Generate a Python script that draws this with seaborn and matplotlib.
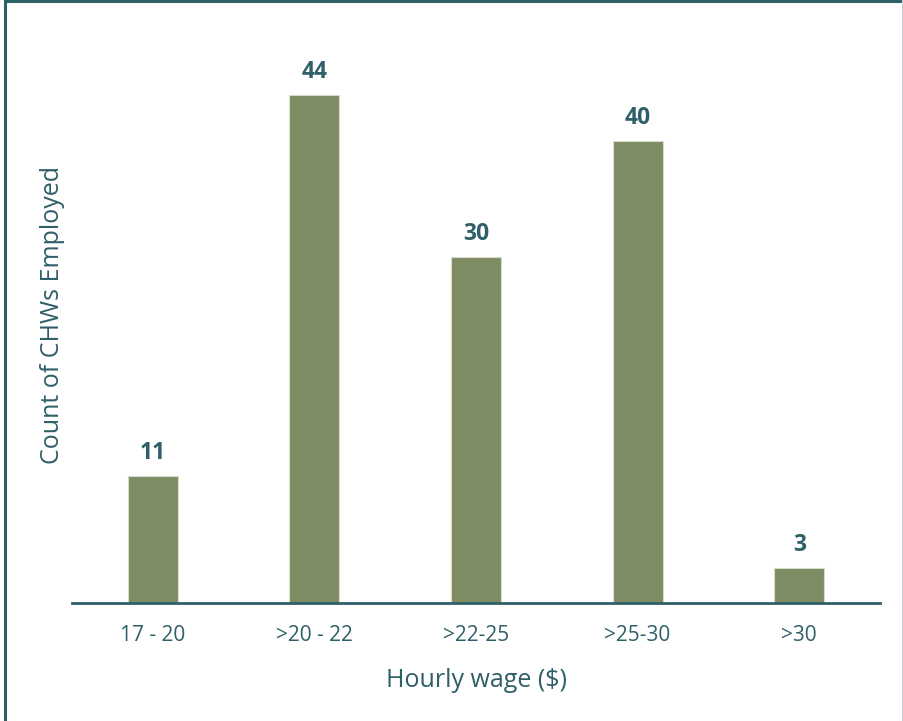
import matplotlib
matplotlib.use("Agg")
import matplotlib.pyplot as plt
from matplotlib.lines import Line2D
import seaborn as sns
import pandas as pd

categories = ["17 - 20", ">20 - 22", ">22-25", ">25-30", ">30"]
counts = [11, 44, 30, 40, 3]

sns.set_theme(style="white")
plt.rcParams["font.family"] = ["Open Sans", "DejaVu Sans"]

teal = "#2F5F68"
bar_color = "#7E8C64"

df = pd.DataFrame({"wage": categories, "count": counts})

fig = plt.figure(figsize=(9.04, 7.21), dpi=100)
ax = fig.add_axes([0.0796, 0.1637, 0.8939, 0.8002])

sns.barplot(data=df, x="wage", y="count", order=categories, color=bar_color,
            width=0.31, saturation=1, edgecolor="#D8DCCB", linewidth=0.8, ax=ax)

ax.set_xlim(-0.5, 4.5)
ax.set_ylim(0, 50)
ax.set_yticks([])
for side in ["top", "right", "left"]:
    ax.spines[side].set_visible(False)
ax.spines["bottom"].set_color(teal)
ax.spines["bottom"].set_linewidth(2)
ax.tick_params(axis="x", length=0, labelsize=15, colors=teal, pad=16)

for i, v in enumerate(counts):
    ax.annotate(str(v), (i, v), xytext=(0, 8), textcoords="offset points",
                ha="center", va="bottom", fontsize=16.5, fontweight="bold", color=teal)

ax.set_xlabel("Hourly wage ($)", fontsize=18, color=teal, labelpad=16)
ax.set_ylabel("Count of CHWs Employed", fontsize=18, color=teal, labelpad=5)

# frame around the figure
fig.add_artist(Line2D([0.0055, 0.0055], [0, 1], transform=fig.transFigure, color=teal, linewidth=2.2))
fig.add_artist(Line2D([0.0055, 1], [0.9985, 0.9985], transform=fig.transFigure, color=teal, linewidth=2.2))
fig.add_artist(Line2D([0.9985, 0.9985], [0, 1], transform=fig.transFigure, color="#C9D0D2", linewidth=1.5))

fig.savefig("out.png", dpi=100, facecolor="white")
